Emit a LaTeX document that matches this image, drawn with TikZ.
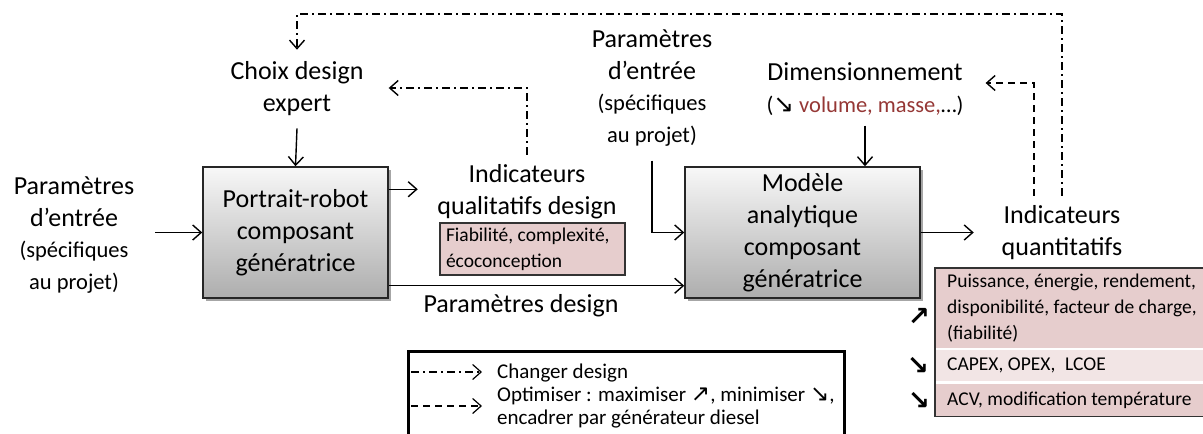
\documentclass[tikz,border=0pt]{standalone}
\usepackage{fontspec}
\setmainfont{Carlito}
\newfontfamily\symf[Scale=1.1]{DejaVu Sans}
\newfontfamily\symg[Scale=1.35,BoldFont={DejaVu Sans Bold}]{DejaVu Sans}
\usetikzlibrary{arrows.meta,shadows,calc}
\definecolor{pinkA}{HTML}{E6CDCD}
\definecolor{pinkB}{HTML}{F2E5E5}
\definecolor{darkred}{HTML}{953735}
\newcommand\fsBig{\fontsize{26}{32}\selectfont}
\newcommand\fsSmall{\fontsize{22.5}{28.5}\selectfont}
\newcommand\fsTiny{\fontsize{19.5}{26}\selectfont}
\newcommand\fsLeg{\fontsize{21}{23}\selectfont}
\begin{document}
\begin{tikzpicture}[x=1pt,y=-1pt,
  arr/.style={-{Straight Barb[length=8.5pt,width=15pt]}, line width=1.4pt},
  dashdot/.style={dash pattern=on 8pt off 4pt on 2pt off 4pt, line width=1.2pt},
  dsh/.style={dash pattern=on 7pt off 5pt, line width=1.2pt},
  lbl/.style={align=center, inner sep=2pt, font=\fsBig},
  gbox/.style={draw=black!85, line width=1.5pt, top color=black!3, bottom color=black!32,
    drop shadow={shadow xshift=2.5pt, shadow yshift=-2.5pt, fill=black, opacity=0.35},
    align=center, font=\fsBig, inner sep=0pt},
  pinkbox/.style={fill=pinkA, draw=black!80, line width=1.3pt},
  row/.style={anchor=north west, text width=256pt, inner xsep=12pt, inner ysep=0pt, align=flush left, font=\fsTiny},
  glyph/.style={font=\fsTiny\symg\bfseries, inner sep=0pt}
]
\useasboundingbox (0,0) rectangle (1203,434);

% nodes
\node[lbl] (choix) at (297,89) {Choix design\\expert};
\node[gbox, minimum width=185pt, minimum height=131pt] (portrait) at (295.5,232.5) {Portrait-robot\\composant\\génératrice};
\node[lbl] (lp) at (74,235) {Paramètres\\d’entrée\\[-1pt]\fsSmall (spécifiques\\\fsSmall au projet)};
\node[lbl] (indql) at (527,192) {Indicateurs\\qualitatifs design};
\node[pinkbox, minimum width=185pt, minimum height=52pt, text width=173pt, inner xsep=6pt, align=flush left, font=\fsTiny] (fiab) at (532.5,249) {Fiabilité, complexité,\\écoconception};
\node[lbl] (pd) at (521,306) {Paramètres design};
\node[lbl] (tp) at (652,88) {Paramètres\\d’entrée\\[-1pt]\fsSmall (spécifiques\\\fsSmall au projet)};
\node[gbox, minimum width=235pt, minimum height=131pt] (modele) at (802.5,232.5) {Modèle\\analytique\\composant\\génératrice};
\node[lbl] (dim) at (865,89) {Dimensionnement\\\fsSmall ({\symf ↘} \textcolor{darkred}{volume, masse,}…)};
\node[lbl] (indqt) at (1062,233) {Indicateurs\\quantitatifs};

% table
\node[row, fill=pinkA, minimum height=80pt] (rowA) at (935,268) {Puissance, énergie, rendement,\\disponibilité, facteur de charge,\\(fiabilité)};
\node[row, fill=pinkB, minimum height=31pt] (rowB) at (935,350) {CAPEX, OPEX,\enspace LCOE};
\node[row, fill=pinkA, minimum height=32pt] (rowC) at (935,384) {ACV, modification température};
\draw[draw=black!80, line width=1.3pt] (rowA.north west) rectangle (rowC.south east);
\node[glyph] (gA) at (919,317) {↗};
\node[glyph] (gB) at (918,366) {↘};
\node[glyph] (gC) at (919,401) {↘};

% legend
\node[draw, line width=3pt, minimum width=436pt, minimum height=110pt, anchor=north west, inner sep=0pt] (legend) at (407,350) {};
\coordinate (l1a) at (411,372);
\coordinate (l1b) at (482,372);
\coordinate (l2a) at (411,406);
\coordinate (l2b) at (482,406);
\draw[dashdot, arr, line width=1.2pt] (l1a) -- (l1b);
\draw[dsh, arr, line width=1.2pt] (l2a) -- (l2b);
\node[anchor=west, font=\fsLeg, inner sep=0pt] (leg1) at (497,373) {Changer design};
\node[anchor=west, font=\fsLeg, inner sep=0pt, align=flush left] (leg2) at (497,408) {Optimiser : maximiser {\symf ↗}, minimiser {\symf ↘},\\encadrer par générateur diesel};

% connectors
\coordinate (top) at (0,14);
\draw[arr] ($(portrait.west)+(-47,0)$) -- (portrait.west);
\draw[arr] (choix.south) ++(0,10) -- (portrait.north);
\draw[arr] ($(portrait.north east)+(0,23)$) -- ($(portrait.north east)+(29,23)$);
\draw[arr] ($(portrait.south east)+(0,-13)$) -- (modele.west |- {$(portrait.south east)+(0,-13)$});
\draw[arr] ($(tp.south)+(0,12)$) |- (modele.west);
\draw[arr] (dim.south) ++(0,8) -- (modele.north -| dim.south);
\draw[arr] (modele.east) -- ($(modele.east)+(53,0)$);
\draw[dashdot, arr] ($(indql.north)+(0,-8)$) |- ($(choix.east)+(23,-1)$);
\draw[dashdot, arr] ($(indqt.north)+(0,-8)$) -- (indqt.north |- top) -| ($(choix.north)+(0,-10)$);
\draw[dsh, arr] ($(indqt.north)+(-28,-8)$) |- ($(dim.east)+(20,-6)$);
\end{tikzpicture}
\end{document}
